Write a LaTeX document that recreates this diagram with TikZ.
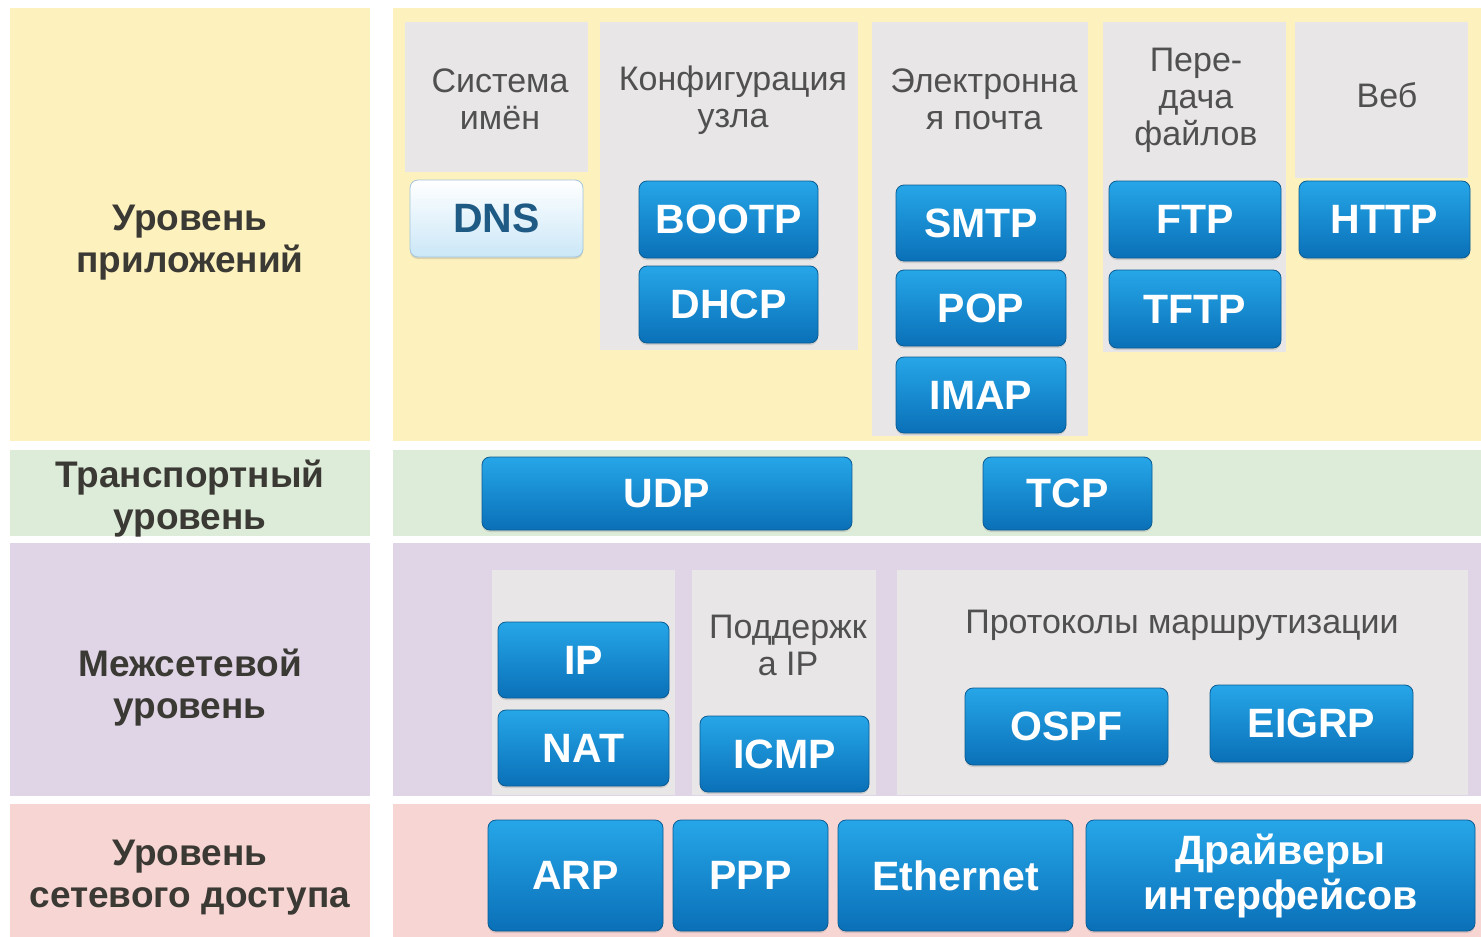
\documentclass[tikz,border=0pt]{standalone}
\usepackage{fontspec}
\setmainfont{Liberation Sans}
\usetikzlibrary{shadows}
\definecolor{appbg}{HTML}{FDF1BE}
\definecolor{trbg}{HTML}{DDEBD9}
\definecolor{netbg}{HTML}{E0D5E6}
\definecolor{accbg}{HTML}{F7D5D3}
\definecolor{panelgray}{HTML}{E8E6E6}
\definecolor{btntop}{HTML}{26A6E8}
\definecolor{btnbot}{HTML}{0A70B8}
\definecolor{btnedge}{HTML}{0B5C93}
\definecolor{dnsbot}{HTML}{CBE7F7}
\definecolor{dnsedge}{HTML}{A3C6DD}
\definecolor{dnstext}{HTML}{1E5A84}
\definecolor{labeltext}{HTML}{3A3934}
\definecolor{grouptextcol}{HTML}{505050}

\tikzset{
  dims/.style 2 args={minimum width=#1, minimum height=#2},
  layer/.style={inner sep=0pt, outer sep=0pt, draw=none},
  panel/.style={fill=panelgray, inner sep=0pt, outer sep=0pt},
  layertext/.style={text=labeltext, align=center, inner sep=0pt,
    font=\fontsize{37}{42}\selectfont\bfseries},
  grouptext/.style={text=grouptextcol, align=center, inner sep=0pt,
    font=\fontsize{34}{37}\selectfont},
  proto/.style={rounded corners=8pt, top color=btntop, bottom color=btnbot,
    draw=btnedge, line width=0.8pt, text=white, align=center, inner sep=0pt,
    drop shadow={opacity=0.25, shadow xshift=0pt, shadow yshift=-2pt},
    font=\fontsize{41}{45}\selectfont\bfseries},
  protolight/.style={proto, top color=white, bottom color=dnsbot,
    draw=dnsedge, text=dnstext}
}

\begin{document}
\begin{tikzpicture}[x=1pt, y=-1pt]
  \useasboundingbox (0, 0) rectangle (1481, 937);
  \fill [white] (0, 0) rectangle (1481, 937);

  % layer backgrounds
  \node [layer, fill=appbg, dims={360pt}{433pt}] (AppL) at (190, 224.5) {};
  \node [layer, fill=appbg, dims={1088pt}{433pt}] (AppR) at (937, 224.5) {};
  \node [layer, fill=trbg, dims={360pt}{86pt}] (TrL) at (190, 493) {};
  \node [layer, fill=trbg, dims={1088pt}{86pt}] (TrR) at (937, 493) {};
  \node [layer, fill=netbg, dims={360pt}{253pt}] (NetL) at (190, 669.5) {};
  \node [layer, fill=netbg, dims={1088pt}{253pt}] (NetR) at (937, 669.5) {};
  \node [layer, fill=accbg, dims={360pt}{134pt}] (AccL) at (190, 871) {};
  \node [layer, fill=accbg, dims={1088pt}{134pt}] (AccR) at (937, 871) {};

  \node [layertext] (AppT) at (190, 243) {Уровень\\приложений};
  \node [layertext] (TrT) at (190, 499) {Транспортный\\уровень};
  \node [layertext] (NetT) at (190, 688) {Межсетевой\\уровень};
  \node [layertext] (AccT) at (190, 878) {Уровень\\сетевого доступа};

  % application layer groups
  \node [panel, dims={183pt}{150pt}] (NameP) at (496.5, 97) {};
  \node [panel, dims={258pt}{328pt}] (ConfP) at (729, 186) {};
  \node [panel, dims={216pt}{414pt}] (MailP) at (980, 229) {};
  \node [panel, dims={183pt}{330pt}] (FileP) at (1194.5, 187) {};
  \node [panel, dims={173pt}{156pt}] (WebP) at (1381.5, 100) {};

  \node [grouptext] (NameT) at (500, 99) {Система\\имён};
  \node [grouptext] (ConfT) at (733, 100) {Конфигурация\\узла};
  \node [grouptext] (MailT) at (984, 99) {Электронна\\я почта};
  \node [grouptext] (FileT) at (1196, 100) {Пере-\\дача\\файлов};
  \node [grouptext] (WebT) at (1387, 95) {Веб};

  \node [protolight, dims={173pt}{77pt}] (DNS) at (496.5, 218.5) {DNS};
  \node [proto, dims={179pt}{77pt}] (BOOTP) at (728.5, 219.5) {BOOTP};
  \node [proto, dims={179pt}{77pt}] (DHCP) at (728.5, 304.5) {DHCP};
  \node [proto, dims={170pt}{76pt}] (SMTP) at (981, 223) {SMTP};
  \node [proto, dims={170pt}{76pt}] (POP) at (981, 308) {POP};
  \node [proto, dims={170pt}{76pt}] (IMAP) at (981, 395) {IMAP};
  \node [proto, dims={172pt}{77pt}] (FTP) at (1195, 219.5) {FTP};
  \node [proto, dims={172pt}{78pt}] (TFTP) at (1195, 309) {TFTP};
  \node [proto, dims={171pt}{77pt}] (HTTP) at (1384.5, 219.5) {HTTP};

  % transport layer
  \node [proto, dims={370pt}{73pt}] (UDP) at (667, 493.5) {UDP};
  \node [proto, dims={169pt}{73pt}] (TCP) at (1067.5, 493.5) {TCP};

  % internet layer groups
  \node [panel, dims={183pt}{225pt}] (IPP) at (583.5, 682.5) {};
  \node [panel, dims={184pt}{225pt}] (SupP) at (784, 682.5) {};
  \node [panel, dims={571pt}{225pt}] (RouteP) at (1182.5, 682.5) {};

  \node [grouptext] (SupT) at (788, 645) {Поддержк\\а IP};
  \node [grouptext] (RouteT) at (1182, 625) {Протоколы маршрутизации};

  \node [proto, dims={171pt}{76pt}] (IP) at (583.5, 660) {IP};
  \node [proto, dims={171pt}{76pt}] (NAT) at (583.5, 748) {NAT};
  \node [proto, dims={169pt}{76pt}] (ICMP) at (784.5, 754) {ICMP};
  \node [proto, dims={203pt}{77pt}] (OSPF) at (1066.5, 726.5) {OSPF};
  \node [proto, dims={203pt}{77pt}] (EIGRP) at (1311.5, 723.5) {EIGRP};

  % network access layer
  \node [proto, dims={175pt}{111pt}] (ARP) at (575.5, 875.5) {ARP};
  \node [proto, dims={155pt}{111pt}] (PPP) at (750.5, 875.5) {PPP};
  \node [proto, dims={235pt}{111pt}] (ETH) at (955.5, 875.5) {Ethernet};
  \node [proto, dims={389pt}{111pt}] (DRV) at (1280.5, 875.5) {Драйверы\\интерфейсов};
\end{tikzpicture}
\end{document}
